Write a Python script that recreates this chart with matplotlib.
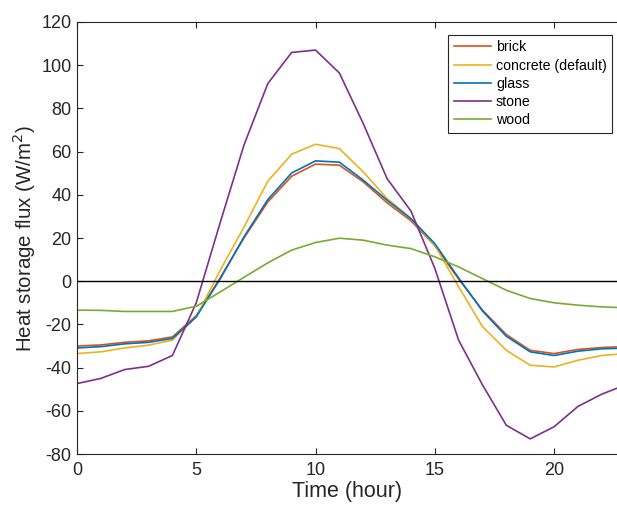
import numpy as np
import matplotlib.pyplot as plt

plt.rcParams['font.family'] = ['Liberation Sans', 'DejaVu Sans']
plt.rcParams['axes.unicode_minus'] = False

hours = np.arange(24)

brick = [-30, -29.5, -28.3, -27.6, -25.8, -16, 1.5, 20, 36.7, 48.6, 54.2, 53.7,
         46, 36.3, 28, 16.5, 1, -13.4, -24.7, -32, -33.5, -31.6, -30.7, -30.3]
concrete = [-33.5, -32.7, -30.9, -29.6, -27.3, -16.5, 5, 25, 46.3, 58.8, 63.4, 61.4,
            50.6, 38.3, 29, 16.7, -2.6, -21, -32, -38.9, -39.7, -36.6, -34.4, -33.5]
glass = [-30.9, -30.3, -29, -28.3, -26.5, -16.5, 1, 20.5, 37.8, 50.1, 55.7, 55.1,
         46.8, 37.5, 29, 17.4, 1.5, -13.8, -25.5, -32.7, -34.4, -32.4, -31.3, -31]
stone = [-47.4, -45, -40.9, -39.4, -34.4, -10, 27, 63, 91.5, 105.9, 107, 96.4,
         73, 47.5, 32.5, 6, -27.3, -48, -66.7, -73, -67.4, -58, -52.3, -48]
wood = [-13.4, -13.5, -14, -14, -14, -11.6, -5, 1.8, 8.5, 14.4, 17.9, 19.9,
        19, 16.7, 15.1, 11.3, 6.6, 1.2, -4.2, -8, -10, -11.1, -11.9, -12.3]

series = [
    ("brick", brick, "#D95319"),
    ("concrete (default)", concrete, "#EDB120"),
    ("glass", glass, "#0072BD"),
    ("stone", stone, "#7E2F8E"),
    ("wood", wood, "#77AC30"),
]

fig = plt.figure(figsize=(6.17, 5.11), dpi=100)
ax = fig.add_axes([77 / 617, 57 / 511, 540 / 617, 432 / 511])

for name, vals, col in series:
    ax.plot(hours, vals, color=col, lw=1.2, label=name)
ax.axhline(0, color="black", lw=1.0)

ax.set_xlim(0, 22.64)
ax.set_ylim(-80, 120)
ax.set_xticks([0, 5, 10, 15, 20])
ax.set_yticks(np.arange(-80, 121, 20))

axcol = "#262626"
for s in ["left", "top", "bottom"]:
    ax.spines[s].set_color(axcol)
    ax.spines[s].set_linewidth(0.8)
ax.spines["right"].set_visible(False)
ax.tick_params(direction="in", top=True, right=False, length=4, width=0.8,
               colors=axcol, labelsize=13, labelcolor=axcol)
ax.tick_params(axis="x", pad=6)
ax.tick_params(axis="y", pad=4)

ax.set_xlabel("Time (hour)", fontsize=15.5, color=axcol, labelpad=1)
ax.set_ylabel("Heat storage flux (W/m$^2$)", fontsize=14.8, color=axcol, labelpad=2)

leg = ax.legend(loc="upper right", bbox_to_anchor=(1.0045, 0.987), fontsize=10.2,
                fancybox=False, framealpha=1, handlelength=2.6, borderpad=0.4,
                labelspacing=0.3, handletextpad=0.35)
leg.get_frame().set_edgecolor(axcol)
leg.get_frame().set_linewidth(0.8)

fig.savefig("out.png", dpi=100)
